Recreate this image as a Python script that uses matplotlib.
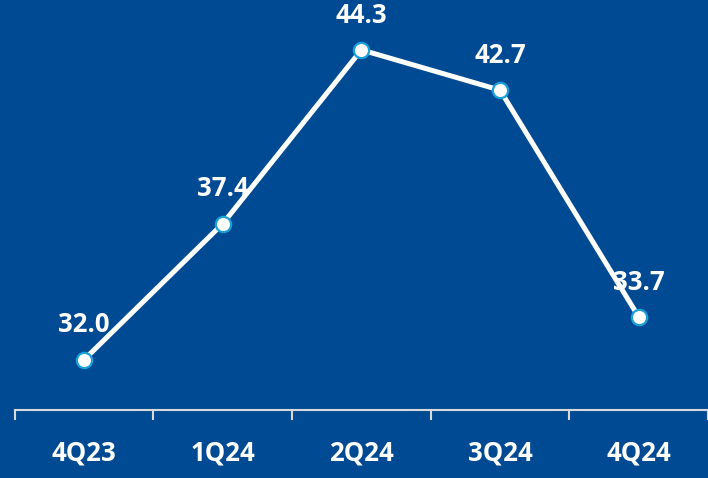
import matplotlib.pyplot as plt

# chart data
quarters = ['4Q23', '1Q24', '2Q24', '3Q24', '4Q24']
values = [32.0, 37.4, 44.3, 42.7, 33.7]

bg = '#004A93'
font = 'Open Sans'

fig = plt.figure(figsize=(7.08, 4.78), dpi=100, facecolor=bg)
ax = fig.add_axes([0, 0, 1, 1])
ax.set_facecolor(bg)

x = list(range(len(quarters)))
ax.plot(x, values, color='white', linewidth=3.6, zorder=2,
        marker='o', markersize=11, markerfacecolor='white',
        markeredgecolor='#1AA0D8', markeredgewidth=1.6)

for xi, v in zip(x, values):
    ax.annotate(f'{v:.1f}', (xi, v), xytext=(0, 25), textcoords='offset points',
                ha='center', va='center', color='white', fontsize=18.5,
                fontweight='bold', family=font, zorder=1)

ax.set_xlim(-0.607, 4.45)
ax.set_ylim(27.3, 46.28)

for s in ['top', 'right', 'left']:
    ax.spines[s].set_visible(False)
ax.spines['bottom'].set_position(('data', 30))
ax.spines['bottom'].set_bounds(-0.5, 4.6)
ax.spines['bottom'].set_color('#D9D9D9')
ax.spines['bottom'].set_linewidth(1.5)

ax.set_yticks([])
ax.set_xticks(x)
ax.set_xticklabels(quarters, color='white', fontsize=18.5, fontweight='bold', family=font)
ax.tick_params(axis='x', which='major', length=0, pad=21)
ax.set_xticks([i - 0.5 for i in range(len(quarters) + 1)], minor=True)
ax.tick_params(axis='x', which='minor', length=7, width=1.5, color='#D9D9D9', direction='out')

fig.savefig('out.png', dpi=100, facecolor=bg)
